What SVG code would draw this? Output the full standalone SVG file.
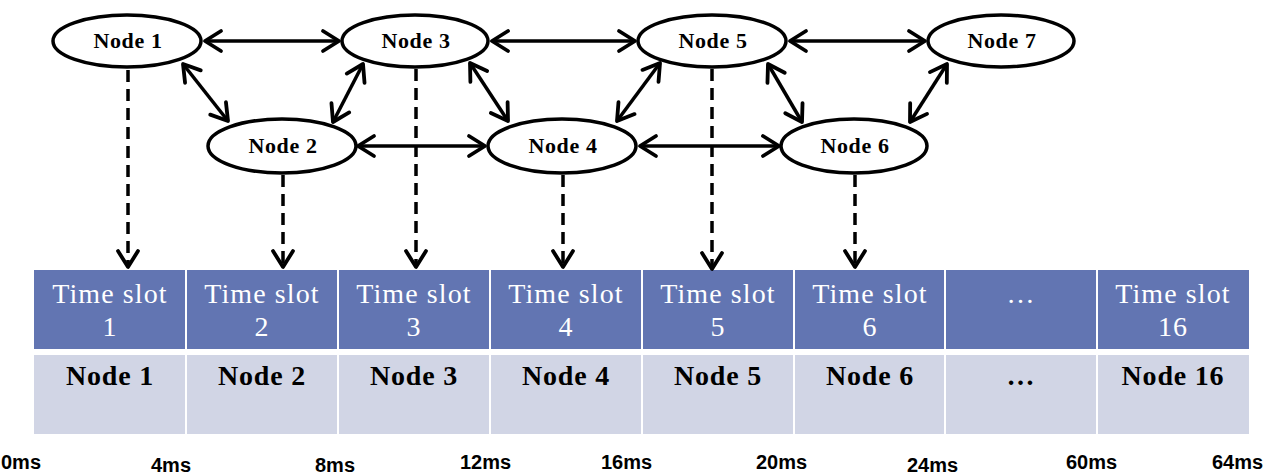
<svg xmlns="http://www.w3.org/2000/svg" width="1278" height="475" viewBox="0 0 1278 475">
<style>
.ell{fill:#fff;stroke:#000;stroke-width:3.5}
.nt{font-family:"Liberation Serif",serif;font-weight:bold;font-size:22px;letter-spacing:0.6px;text-anchor:middle;fill:#000}
.link{stroke:#000;stroke-width:3.5;fill:none}
.dash{stroke:#000;stroke-width:3.5;fill:none;stroke-dasharray:12 7}
.hd{fill:#6275b2}
.rw{fill:#d1d5e5}
.ht{font-family:"Liberation Serif",serif;font-size:28px;letter-spacing:1.1px;text-anchor:middle;fill:#fff}
.rt{font-family:"Liberation Serif",serif;font-weight:bold;font-size:28px;letter-spacing:0.8px;text-anchor:middle;fill:#000}
.ms{font-family:"Liberation Sans",sans-serif;font-weight:bold;font-size:20px;fill:#000}
.sep{stroke:#fff;stroke-width:2}
</style>
<defs>
<marker id="ah" markerUnits="userSpaceOnUse" viewBox="-22 -14 26 28" markerWidth="26" markerHeight="28" refX="0" refY="0" orient="auto-start-reverse">
<path d="M-16,-10 L0,0 L-16,10" fill="none" stroke="#000" stroke-width="3.8" stroke-linecap="round" stroke-linejoin="round" stroke-dasharray="none"/>
</marker>
</defs>

<g id="table">
<rect class="hd" x="34" y="270" width="1215" height="79"/>
<rect class="rw" x="34" y="355" width="1215" height="79"/>
<line class="sep" x1="186" y1="270" x2="186" y2="434"/>
<line class="sep" x1="338" y1="270" x2="338" y2="434"/>
<line class="sep" x1="490" y1="270" x2="490" y2="434"/>
<line class="sep" x1="642" y1="270" x2="642" y2="434"/>
<line class="sep" x1="794" y1="270" x2="794" y2="434"/>
<line class="sep" x1="945" y1="270" x2="945" y2="434"/>
<line class="sep" x1="1097" y1="270" x2="1097" y2="434"/>
<text class="ht" x="110" y="303">Time slot</text><text class="ht" x="110" y="336">1</text>
<text class="ht" x="262" y="303">Time slot</text><text class="ht" x="262" y="336">2</text>
<text class="ht" x="414" y="303">Time slot</text><text class="ht" x="414" y="336">3</text>
<text class="ht" x="566" y="303">Time slot</text><text class="ht" x="566" y="336">4</text>
<text class="ht" x="718" y="303">Time slot</text><text class="ht" x="718" y="336">5</text>
<text class="ht" x="870" y="303">Time slot</text><text class="ht" x="870" y="336">6</text>
<text class="ht" x="1021" y="303">…</text>
<text class="ht" x="1173" y="303">Time slot</text><text class="ht" x="1173" y="336">16</text>
<text class="rt" x="110" y="385">Node 1</text>
<text class="rt" x="262" y="385">Node 2</text>
<text class="rt" x="414" y="385">Node 3</text>
<text class="rt" x="566" y="385">Node 4</text>
<text class="rt" x="718" y="385">Node 5</text>
<text class="rt" x="870" y="385">Node 6</text>
<text class="rt" x="1021" y="385">…</text>
<text class="rt" x="1173" y="385">Node 16</text>
</g>

<g id="timeline">
<text class="ms" x="1" y="469">0ms</text>
<text class="ms" x="151" y="472">4ms</text>
<text class="ms" x="315" y="472">8ms</text>
<text class="ms" x="460" y="469">12ms</text>
<text class="ms" x="601" y="469">16ms</text>
<text class="ms" x="756" y="469">20ms</text>
<text class="ms" x="907" y="472">24ms</text>
<text class="ms" x="1066" y="469">60ms</text>
<text class="ms" x="1212" y="469">64ms</text>
</g>

<g id="connectors">
<line class="link" x1="205" y1="41" x2="339" y2="41" marker-start="url(#ah)" marker-end="url(#ah)"/>
<line class="link" x1="492" y1="41" x2="635" y2="41" marker-start="url(#ah)" marker-end="url(#ah)"/>
<line class="link" x1="790" y1="41" x2="925" y2="41" marker-start="url(#ah)" marker-end="url(#ah)"/>
<line class="link" x1="358" y1="146" x2="485" y2="146" marker-start="url(#ah)" marker-end="url(#ah)"/>
<line class="link" x1="640" y1="146" x2="779" y2="146" marker-start="url(#ah)" marker-end="url(#ah)"/>
<line class="link" x1="183" y1="64" x2="228" y2="121" marker-start="url(#ah)" marker-end="url(#ah)"/>
<line class="link" x1="363" y1="64" x2="333" y2="122" marker-start="url(#ah)" marker-end="url(#ah)"/>
<line class="link" x1="470" y1="63" x2="508" y2="121" marker-start="url(#ah)" marker-end="url(#ah)"/>
<line class="link" x1="660" y1="63" x2="617" y2="121" marker-start="url(#ah)" marker-end="url(#ah)"/>
<line class="link" x1="768" y1="64" x2="802" y2="122" marker-start="url(#ah)" marker-end="url(#ah)"/>
<line class="link" x1="947" y1="64" x2="910" y2="122" marker-start="url(#ah)" marker-end="url(#ah)"/>
<line class="dash" x1="128" y1="70" x2="128" y2="267" marker-end="url(#ah)"/>
<line class="dash" x1="283" y1="175" x2="283" y2="267" marker-end="url(#ah)"/>
<line class="dash" x1="416" y1="69" x2="416" y2="267" marker-end="url(#ah)"/>
<line class="dash" x1="563" y1="175" x2="563" y2="267" marker-end="url(#ah)"/>
<line class="dash" x1="712" y1="69" x2="712" y2="269" marker-end="url(#ah)"/>
<line class="dash" x1="855" y1="175" x2="855" y2="267" marker-end="url(#ah)"/>
</g>

<g id="node1"><ellipse class="ell" cx="127" cy="41" rx="74" ry="26"/><text class="nt" x="128" y="48">Node 1</text></g>
<g id="node3"><ellipse class="ell" cx="415" cy="41" rx="73" ry="26"/><text class="nt" x="416" y="48">Node 3</text></g>
<g id="node5"><ellipse class="ell" cx="712" cy="41" rx="74" ry="26"/><text class="nt" x="713" y="48">Node 5</text></g>
<g id="node7"><ellipse class="ell" cx="1001" cy="41" rx="73" ry="26"/><text class="nt" x="1002" y="48">Node 7</text></g>
<g id="node2"><ellipse class="ell" cx="282" cy="146" rx="74" ry="27"/><text class="nt" x="283" y="153">Node 2</text></g>
<g id="node4"><ellipse class="ell" cx="562" cy="146" rx="74" ry="27"/><text class="nt" x="563" y="153">Node 4</text></g>
<g id="node6"><ellipse class="ell" cx="854" cy="146" rx="73" ry="27"/><text class="nt" x="855" y="153">Node 6</text></g>
</svg>
